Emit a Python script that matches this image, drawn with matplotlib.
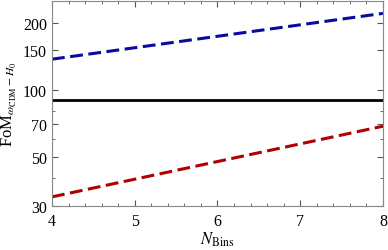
import numpy as np
import matplotlib.pyplot as plt
from matplotlib.ticker import FixedLocator, NullFormatter, MultipleLocator

plt.rcParams['font.family'] = ['Liberation Serif', 'DejaVu Serif']
plt.rcParams['mathtext.fontset'] = 'stix'

n_bins = [4, 8]
fom_blue = [137, 220]
fom_black = [90, 90]
fom_red = [33, 68.5]
y_ticks = [30, 50, 70, 100, 150, 200]

fig = plt.figure(figsize=(3.88, 2.51), dpi=100)
ax = fig.add_axes([0.134, 0.175, 0.853, 0.817])

ax.plot(n_bins, fom_blue, color='#0a0aa0', lw=2.2, ls=(0, (4.2, 1.8)))
ax.plot(n_bins, fom_black, color='black', lw=2.0)
ax.plot(n_bins, fom_red, color='#b00000', lw=2.2, ls=(0, (4.2, 1.8)))

ax.set_yscale('log')
ax.set_xlim(4, 8)
ax.set_ylim(30, 250)
ax.yaxis.set_major_locator(FixedLocator(y_ticks))
ax.yaxis.set_major_formatter(plt.FuncFormatter(lambda v, p: '%d' % v))
minor = [m * d for d in (10, 100) for m in range(1, 10)]
ax.yaxis.set_minor_locator(FixedLocator([v for v in minor if 30 <= v <= 250 and v not in y_ticks]))
ax.yaxis.set_minor_formatter(NullFormatter())
ax.xaxis.set_major_locator(MultipleLocator(1))
ax.xaxis.set_minor_locator(MultipleLocator(0.2))

ax.tick_params(which='both', direction='in', top=True, right=True, labelsize=11.5, colors='#555555', labelcolor='black')
ax.tick_params(which='major', length=4)
ax.tick_params(which='minor', length=2)
ax.tick_params(axis='x', pad=5)
for s in ax.spines.values():
    s.set_color('#888888')

ax.set_xlabel(r'$N_{\rm Bins}$', fontsize=12)
ax.set_ylabel(r'FoM$_{\omega_{\rm CDM}-H_0}$', fontsize=12)
ax.xaxis.set_label_coords(0.5, -0.115)
ax.yaxis.set_label_coords(-0.1, 0.5)

fig.savefig('out.png', dpi=100)
